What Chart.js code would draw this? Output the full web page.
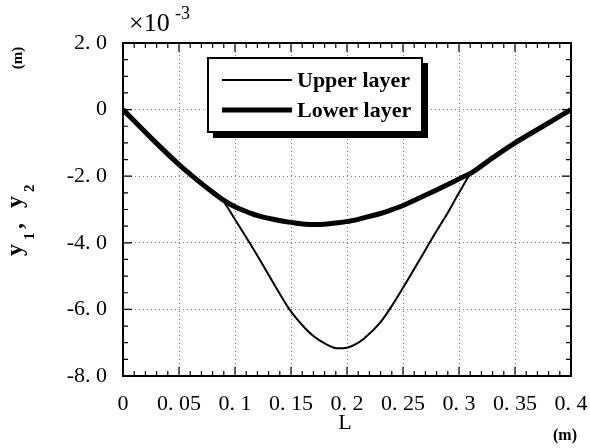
<!DOCTYPE html>
<html>
<head>
<meta charset="utf-8">
<script src="https://cdn.jsdelivr.net/npm/chart.js@4/dist/chart.umd.min.js"></script>
<style>
    html, body { margin: 0; padding: 0; background: #fff; }
    #wrap { width: 590px; height: 448px; }
</style>
</head>
<body>
<div id="wrap"><canvas id="layerChart"></canvas></div>
<script>
// length along the beam (m)
var lengthValues = [0, 0.025, 0.05, 0.075, 0.088, 0.1, 0.113, 0.122, 0.135, 0.148, 0.155, 0.163, 0.17, 0.18, 0.192, 0.2, 0.207, 0.215, 0.23, 0.238, 0.25, 0.265, 0.279, 0.29, 0.3, 0.311, 0.33, 0.35, 0.375, 0.4];
// deflection, x 10^-3 m
var upperLayer = [0, -0.85, -1.65, -2.35, -2.68, -3.3, -4.0, -4.5, -5.25, -5.97, -6.28, -6.58, -6.8, -7.02, -7.17, -7.15, -7.06, -6.88, -6.38, -6.0, -5.35, -4.5, -3.7, -3.1, -2.5, -1.9, -1.45, -1.0, -0.5, 0];
var lowerLayer = [0, -0.85, -1.65, -2.35, -2.68, -2.92, -3.1, -3.2, -3.3, -3.38, -3.41, -3.44, -3.45, -3.44, -3.4, -3.36, -3.32, -3.25, -3.12, -3.03, -2.88, -2.65, -2.43, -2.25, -2.08, -1.9, -1.45, -1.0, -0.5, 0];

var seriesNames = ['Upper layer', 'Lower layer'];
var xTickLabels = ['0', '0. 05', '0. 1', '0. 15', '0. 2', '0. 25', '0. 3', '0. 35', '0. 4'];
var yTickLabels = ['-8. 0', '-6. 0', '-4. 0', '-2. 0', '0', '2. 0'];

var SERIF = '"Liberation Serif", "DejaVu Serif", serif';

function toPoints(ys) {
    return lengthValues.map(function (x, i) { return { x: x, y: ys[i] }; });
}

// frame, inward minor ticks, legend box and axis captions
var decorations = {
    id: 'decorations',
    afterDraw: function (chart) {
        var ctx = chart.ctx;
        var xs = chart.scales.x, ys = chart.scales.y;
        var a = chart.chartArea;
        ctx.save();
        ctx.strokeStyle = '#000';

        // ticks on all four sides, pointing in
        ctx.lineWidth = 1.2;
        ctx.beginPath();
        for (var i = 0; i <= 40; i++) {
            var px = xs.getPixelForValue(i * 0.01);
            var len = (i % 5 === 0) ? 9 : 5;
            ctx.moveTo(px, a.bottom); ctx.lineTo(px, a.bottom - len);
            ctx.moveTo(px, a.top); ctx.lineTo(px, a.top + len);
        }
        for (var j = 0; j <= 20; j++) {
            var py = ys.getPixelForValue(-8 + j * 0.5);
            var l2 = (j % 4 === 0) ? 9 : 5;
            ctx.moveTo(a.left, py); ctx.lineTo(a.left + l2, py);
            ctx.moveTo(a.right, py); ctx.lineTo(a.right - l2, py);
        }
        ctx.stroke();

        // frame
        ctx.lineWidth = 2;
        ctx.strokeRect(a.left, a.top, a.right - a.left, a.bottom - a.top);

        // legend box with shadow
        ctx.fillStyle = '#000';
        ctx.fillRect(213, 63, 215, 75);
        ctx.fillStyle = '#fff';
        ctx.fillRect(208, 58, 214, 74);
        ctx.lineWidth = 2;
        ctx.strokeRect(208, 58, 214, 74);

        chart.data.datasets.forEach(function (ds, k) {
            var ly = 80 + k * 30;
            ctx.beginPath();
            ctx.lineWidth = ds.borderWidth;
            ctx.moveTo(222, ly);
            ctx.lineTo(292, ly);
            ctx.stroke();
            ctx.fillStyle = '#000';
            ctx.font = 'bold 22px ' + SERIF;
            ctx.textAlign = 'left';
            ctx.textBaseline = 'middle';
            ctx.fillText(ds.label, 297, ly + 1);
        });

        // x10^-3
        ctx.fillStyle = '#000';
        ctx.textBaseline = 'middle';
        ctx.textAlign = 'left';
        ctx.font = '26px ' + SERIF;
        ctx.fillText('\u00d710', 129, 24);
        ctx.font = '18px ' + SERIF;
        ctx.fillText('-3', 175, 14);

        // x axis caption
        ctx.textAlign = 'center';
        ctx.font = '22px ' + SERIF;
        ctx.fillText('L', 345, 423);
        ctx.font = 'bold 16px ' + SERIF;
        ctx.fillText('(m)', 565, 436);

        // y axis caption, rotated
        ctx.save();
        ctx.translate(18, 58);
        ctx.rotate(-Math.PI / 2);
        ctx.font = 'bold 15px ' + SERIF;
        ctx.fillText('(m)', 0, 0);
        ctx.restore();

        ctx.save();
        ctx.translate(22, 256);
        ctx.rotate(-Math.PI / 2);
        ctx.textAlign = 'left';
        ctx.textBaseline = 'alphabetic';
        ctx.font = 'bold 24px ' + SERIF;
        ctx.fillText('y', 0, 0);
        ctx.font = 'bold 15px ' + SERIF;
        ctx.fillText('1', 16, 12);
        ctx.font = 'bold 24px ' + SERIF;
        ctx.fillText(',', 27, 0);
        ctx.fillText('y', 48, 0);
        ctx.font = 'bold 15px ' + SERIF;
        ctx.fillText('2', 64, 12);
        ctx.restore();

        ctx.restore();
    }
};

var ctx = document.getElementById('layerChart').getContext('2d');
var layerChart = new Chart(ctx, {
    type: 'line',
    data: {
        datasets: [
            {
                label: seriesNames[0],
                data: toPoints(upperLayer),
                borderColor: '#000',
                borderWidth: 2,
                pointRadius: 0,
                cubicInterpolationMode: 'monotone'
            },
            {
                label: seriesNames[1],
                data: toPoints(lowerLayer),
                borderColor: '#000',
                borderWidth: 5,
                pointRadius: 0,
                cubicInterpolationMode: 'monotone'
            }
        ]
    },
    options: {
        responsive: true,
        maintainAspectRatio: false,
        animation: false,
        events: [],
        layout: { padding: { left: 0, top: 43, right: 19, bottom: 0 } },
        plugins: {
            legend: { display: false },
            tooltip: { enabled: false }
        },
        scales: {
            x: {
                type: 'linear',
                min: 0,
                max: 0.4,
                afterFit: function (scale) {
                    scale.height = 72;
                    scale.paddingLeft = 0;
                    scale.paddingRight = 0;
                },
                afterBuildTicks: function (scale) {
                    scale.ticks = xTickLabels.map(function (t, i) { return { value: i * 0.05 }; });
                },
                ticks: {
                    padding: 15,
                    color: '#000',
                    font: { family: SERIF, size: 22 },
                    maxRotation: 0,
                    autoSkip: false,
                    callback: function (v, i) { return xTickLabels[i]; }
                },
                grid: {
                    drawTicks: false,
                    color: '#777',
                    lineWidth: 1
                },
                border: { display: false, dash: [1, 3] }
            },
            y: {
                min: -8,
                max: 2,
                afterFit: function (scale) {
                    scale.width = 123;
                    scale.paddingTop = 0;
                    scale.paddingBottom = 0;
                },
                afterBuildTicks: function (scale) {
                    scale.ticks = yTickLabels.map(function (t, i) { return { value: -8 + i * 2 }; });
                },
                ticks: {
                    padding: 16,
                    color: '#000',
                    font: { family: SERIF, size: 22 },
                    autoSkip: false,
                    callback: function (v, i) { return yTickLabels[i]; }
                },
                grid: {
                    drawTicks: false,
                    color: '#777',
                    lineWidth: 1
                },
                border: { display: false, dash: [1, 3] }
            }
        }
    },
    plugins: [decorations]
});
</script>
</body>
</html>
